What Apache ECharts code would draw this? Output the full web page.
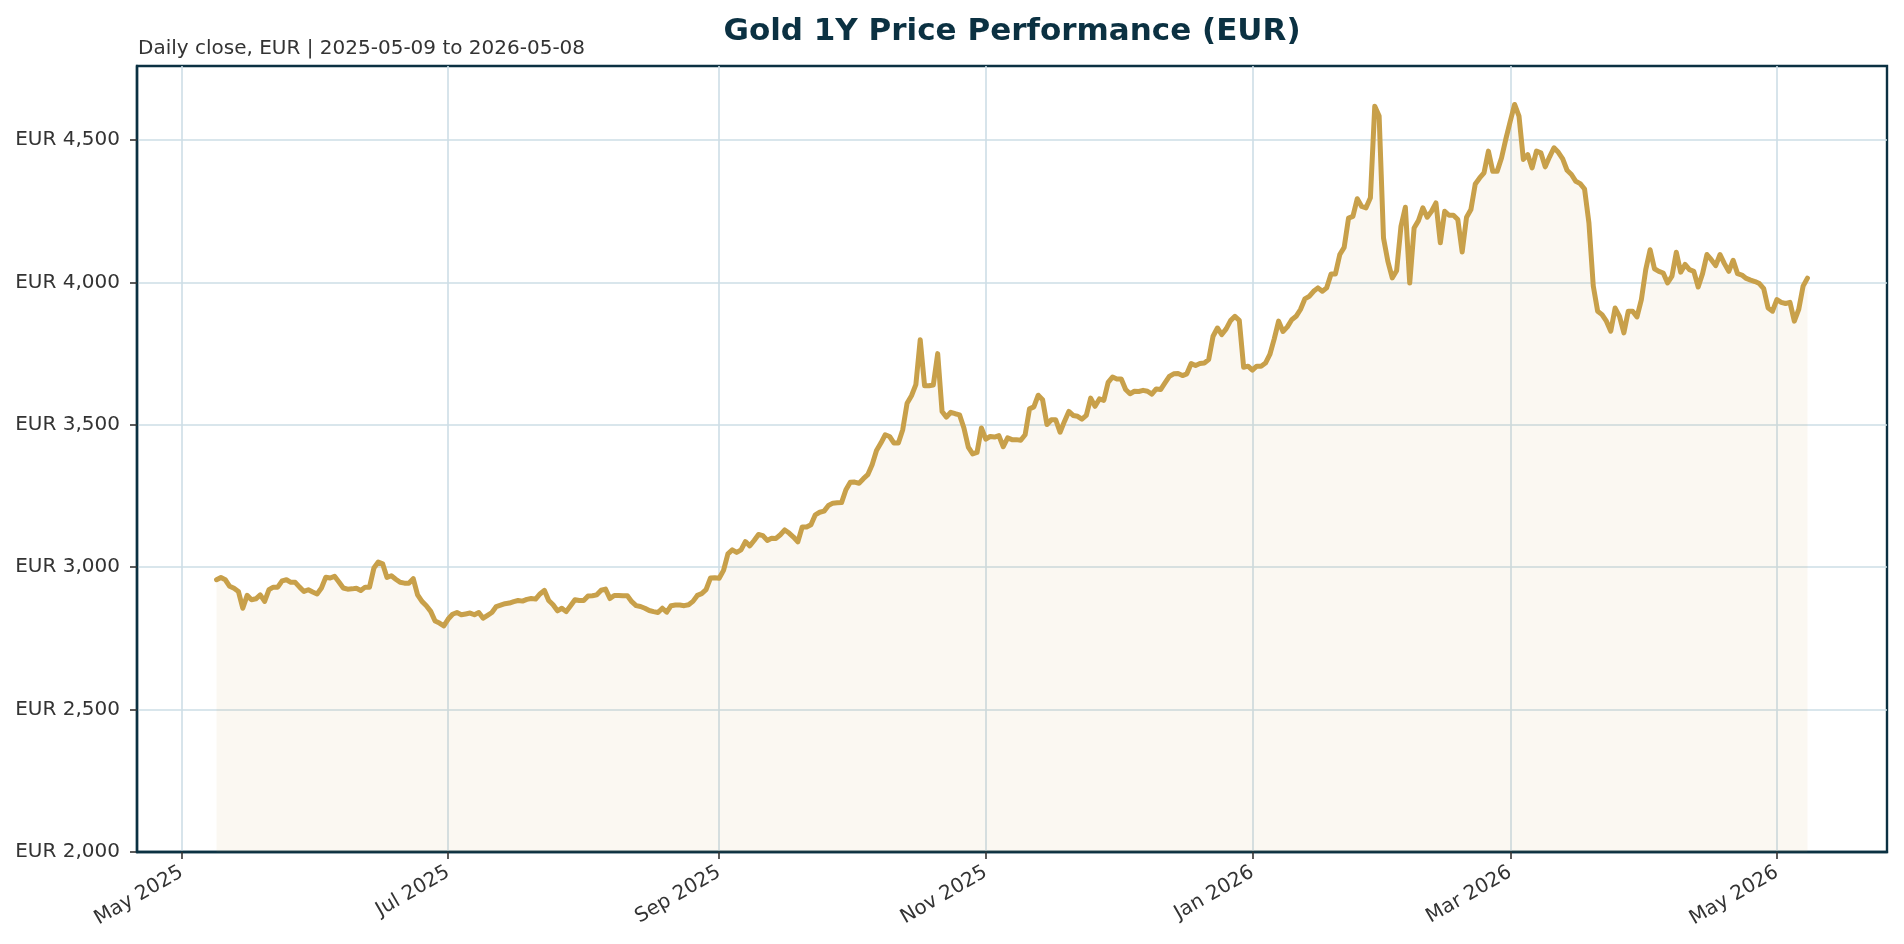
<!DOCTYPE html>
<html>
<head>
<meta charset="utf-8">
<title>Gold 1Y Price Performance (EUR)</title>
<script src="https://cdn.jsdelivr.net/npm/echarts@6/dist/echarts.min.js"></script>
<style>
  html, body { margin: 0; padding: 0; background: #ffffff; }
  #chart { width: 1904px; height: 944px; }
</style>
</head>
<body>
<div id="chart"></div>
<script>
// first close and one value per calendar day after it
var startDate = [2025, 4, 9];   // 2025-05-09 (month is 0-based)
var closeEur = [
  // May 2025
  2956, 2964, 2956, 2933, 2926, 2915, 2856, 2901, 2886, 2889, 2903, 2880, 2921, 2930, 2930,
  2952, 2956, 2947, 2947, 2930, 2915, 2921, 2913,
  // Jun 2025
  2906, 2927, 2965, 2962, 2968, 2948, 2927, 2923, 2924, 2926, 2918, 2930, 2930, 2997, 3018,
  3012, 2964, 2970, 2958, 2947, 2944, 2944, 2960, 2903, 2880, 2865, 2845, 2811, 2804, 2794,
  // Jul 2025
  2818, 2835, 2841, 2833, 2836, 2839, 2833, 2841, 2821, 2831, 2841, 2862, 2867, 2872, 2874,
  2879, 2883, 2881, 2887, 2890, 2888, 2906, 2919, 2883, 2868, 2847, 2856, 2844, 2865, 2886,
  2883,
  // Aug 2025
  2883, 2899, 2900, 2903, 2919, 2923, 2890, 2901, 2901, 2900, 2900, 2879, 2865, 2862, 2856,
  2848, 2844, 2841, 2856, 2842, 2865, 2867, 2867, 2865, 2868, 2880, 2901, 2907, 2921, 2962,
  2963,
  // Sep 2025
  2961, 2989, 3047, 3061, 3052, 3061, 3090, 3075, 3094, 3115, 3111, 3094, 3102, 3101, 3114,
  3131, 3120, 3106, 3089, 3141, 3141, 3149, 3184, 3193, 3197, 3217, 3225, 3226, 3227, 3272,
  // Oct 2025
  3298, 3299, 3295, 3311, 3325, 3360, 3410, 3436, 3465, 3459, 3436, 3436, 3483, 3576, 3602,
  3641, 3799, 3637, 3637, 3640, 3750, 3547, 3527, 3544, 3539, 3535, 3489, 3422, 3398, 3403,
  3489,
  // Nov 2025
  3450, 3459, 3457, 3462, 3423, 3454, 3448, 3448, 3446, 3465, 3556, 3563, 3604, 3588, 3501,
  3518, 3518, 3474, 3512, 3547, 3533, 3530, 3520, 3533, 3594, 3565, 3591, 3586, 3649, 3668,
  // Dec 2025
  3661, 3661, 3624, 3609, 3618, 3617, 3621, 3618, 3608, 3626, 3624, 3647, 3670, 3679, 3680,
  3673, 3679, 3715, 3708, 3715, 3717, 3729, 3811, 3840, 3817, 3837, 3866, 3881, 3867, 3702,
  3706,
  // Jan 2026
  3692, 3706, 3706, 3717, 3747, 3802, 3864, 3828, 3844, 3869, 3881, 3905, 3942, 3951, 3969,
  3981, 3969, 3981, 4030, 4030, 4098, 4123, 4226, 4232, 4294, 4267, 4262, 4297, 4619, 4584,
  4156,
  // Feb 2026
  4074, 4016, 4041, 4197, 4264, 3998, 4191, 4217, 4262, 4229, 4250, 4279, 4139, 4250, 4236,
  4236, 4221, 4107, 4229, 4256, 4346, 4367, 4385, 4461, 4390, 4390, 4437, 4504,
  // Mar 2026
  4566, 4625, 4584, 4432, 4449, 4402, 4461, 4455, 4406, 4441, 4473, 4457, 4434, 4394, 4379,
  4355, 4347, 4328, 4209, 3987, 3899, 3887, 3864, 3829, 3910, 3881, 3823, 3899, 3899, 3879,
  3940,
  // Apr 2026
  4045, 4115, 4048, 4039, 4033, 3998, 4022, 4106, 4036, 4063, 4045, 4039, 3984, 4031, 4098,
  4080, 4059, 4098, 4066, 4039, 4078, 4031, 4026, 4014, 4008, 4003, 3996, 3978, 3910, 3899,
  // May 2026
  3940, 3930, 3926, 3930, 3864, 3905, 3987, 4015
];

var monthTicks = [[2025, 4, 1], [2025, 6, 1], [2025, 8, 1], [2025, 10, 1], [2026, 0, 1], [2026, 2, 1], [2026, 4, 1]];
var monthNames = ['Jan', 'Feb', 'Mar', 'Apr', 'May', 'Jun', 'Jul', 'Aug', 'Sep', 'Oct', 'Nov', 'Dec'];
var priceTicks = [2000, 2500, 3000, 3500, 4000, 4500];

var NAVY = '#0b3142';
var GOLD = '#c8a04a';
var GRIDC = '#cddee6';
var TXT = '#333333';
var FONT = 'DejaVu Sans';

var t0 = new Date(startDate[0], startDate[1], startDate[2]).getTime();
var points = closeEur.map(function (v, i) {
  return [new Date(startDate[0], startDate[1], startDate[2] + i).getTime(), v];
});
var tEnd = points[points.length - 1][0];
var pad = (tEnd - t0) * 0.05;
var tickTimes = monthTicks.map(function (m) { return new Date(m[0], m[1], m[2]).getTime(); });

var dom = document.getElementById('chart');
var myChart = echarts.init(dom, null, { renderer: 'canvas' });

var option = {
  animation: false,
  backgroundColor: '#ffffff',
  textStyle: { fontFamily: FONT },
  graphic: [
    {
      type: 'text', x: 1012, y: 32,
      style: {
        text: 'Gold 1Y Price Performance (EUR)', fill: NAVY,
        font: 'bold 31px "DejaVu Sans"', textAlign: 'center', textVerticalAlign: 'middle'
      }
    },
    {
      type: 'text', x: 138, y: 49,
      style: {
        text: 'Daily close, EUR | 2025-05-09 to 2026-05-08', fill: TXT,
        font: '20px "DejaVu Sans"', textAlign: 'left', textVerticalAlign: 'middle'
      }
    }
  ],
  grid: {
    left: 137, right: 17, top: 66, bottom: 92,
    show: true, borderColor: NAVY, borderWidth: 2.4, backgroundColor: 'transparent'
  },
  // dates as timestamps on a value axis so the month ticks can be placed exactly
  xAxis: {
    type: 'value',
    z: 1,
    min: t0 - pad,
    max: tEnd + pad,
    axisLine: { show: true, lineStyle: { color: NAVY, width: 2.4 } },
    axisTick: { show: true, length: 7, inside: false, customValues: tickTimes, lineStyle: { color: TXT, width: 1.6 } },
    axisLabel: {
      customValues: tickTimes,
      rotate: 30, margin: 19, color: TXT, fontSize: 20, fontFamily: FONT,
      formatter: function (v) {
        var d = new Date(v);
        return monthNames[d.getMonth()] + ' ' + d.getFullYear();
      }
    },
    splitLine: { show: true, lineStyle: { color: GRIDC, width: 1.6 } },
    minorTick: { show: false }
  },
  yAxis: {
    type: 'value',
    min: 2000, max: 4760,
    axisLine: { show: true, lineStyle: { color: NAVY, width: 2.4 } },
    axisTick: { show: true, length: 7, customValues: priceTicks, lineStyle: { color: TXT, width: 1.6 } },
    axisLabel: {
      customValues: priceTicks,
      margin: 17, color: TXT, fontSize: 20, fontFamily: FONT,
      formatter: function (v) { return 'EUR ' + v.toLocaleString('en-US'); }
    },
    splitLine: { show: true, lineStyle: { color: GRIDC, width: 1.6 } }
  },
  series: [
    {
      name: 'Gold (EUR)',
      type: 'line',
      data: points,
      showSymbol: false,
      symbol: 'none',
      lineStyle: { color: GOLD, width: 5, join: 'round', cap: 'round' },
      areaStyle: { color: 'rgba(200,160,74,0.1)', origin: 'start' },
      z: 3
    }
  ]
};

myChart.setOption(option);
window.addEventListener('resize', myChart.resize);
</script>
</body>
</html>
